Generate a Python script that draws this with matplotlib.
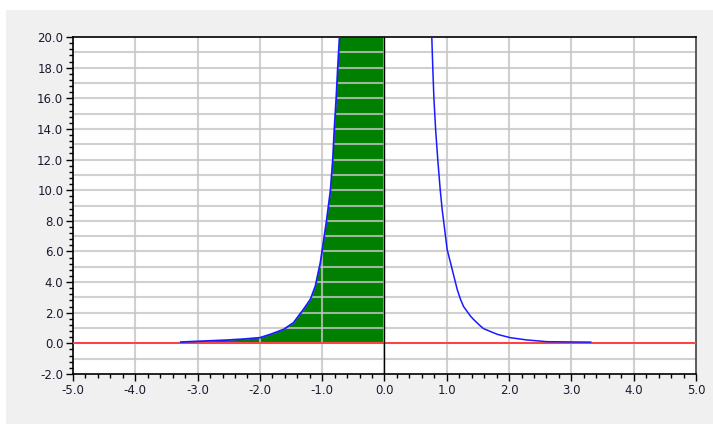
import matplotlib.pyplot as plt
from matplotlib.patches import Rectangle
import numpy as np

# curve (left branch, filled in green)
xLeft = [-3.27, -2.55, -2.26, -2.0, -1.83, -1.62, -1.46, -1.30, -1.19, -1.11,
         -1.03, -0.974, -0.93, -0.867, -0.83, -0.805, -0.775, -0.75, -0.722]
yLeft = [0.085, 0.21, 0.28, 0.37, 0.59, 0.91, 1.35, 2.22, 2.87, 3.73,
         5.26, 6.78, 8.0, 10.0, 12.0, 14.0, 16.0, 18.0, 20.0]

# right branch
xRight = [0.759, 0.775, 0.793, 0.82, 0.855, 0.895, 0.926, 1.006, 1.087,
          1.167, 1.22, 1.27, 1.38, 1.43, 1.53, 1.59, 1.81, 2.02, 2.29,
          2.61, 3.31]
yRight = [20.0, 18.0, 16.0, 14.0, 12.0, 10.0, 8.73, 6.12, 4.82,
          3.52, 2.87, 2.4, 1.78, 1.56, 1.17, 0.96, 0.59, 0.37, 0.22,
          0.11, 0.08]

xTicks = np.arange(-5, 5.01, 1.0)
yTicks = np.arange(-2, 20.01, 2.0)

fig = plt.figure(figsize=(7.13, 4.24), dpi=100)
fig.patch.set_facecolor("white")
# grey panel behind the chart
fig.patches.append(Rectangle((6 / 713, 0), 1, 1 - 10 / 424, transform=fig.transFigure,
                             facecolor="#f0f0f0", edgecolor="none", zorder=-10))

ax = fig.add_axes([73 / 713, 1 - 374 / 424, 623 / 713, 337 / 424])
ax.set_facecolor("white")
ax.set_xlim(-5, 5)
ax.set_ylim(-2, 20)

# green area under left branch, up to the top at x=0
top = ax.get_ylim()[1]
ax.fill_between(xLeft + [0.0], yLeft + [top], 0, color="#008000", lw=0, zorder=1)

# grid every 1.0 on both axes
for gx in np.arange(-4, 5, 1.0):
    ax.axvline(gx, color="#c5c5c5", lw=1.5, alpha=0.8, zorder=2)
for gy in np.arange(-1, 20, 1.0):
    ax.axhline(gy, color="#c5c5c5", lw=1.5, alpha=0.8, zorder=2)

ax.axhline(0, color="#ff4040", lw=1.4, zorder=3)
ax.axvline(0, color="black", lw=1.0, zorder=3)

ax.plot(xLeft, yLeft, color="#1a1aff", lw=1.3, zorder=4)
ax.plot(xRight, yRight, color="#1a1aff", lw=1.1, zorder=4)

ax.set_xticks(xTicks)
ax.set_xticklabels([f"{v:.1f}" for v in xTicks])
ax.set_xticks(np.arange(-5, 5.01, 0.2), minor=True)
ax.set_yticks(yTicks)
ax.set_yticklabels([f"{v:.1f}" for v in yTicks])
ax.set_yticks(np.arange(-2, 20.01, 0.4), minor=True)

ax.tick_params(which="major", length=5, width=1, direction="out", labelsize=8.5,
               colors="black", labelcolor="#1a1a30", pad=2)
ax.tick_params(which="minor", length=3, width=1, direction="out", colors="black")

for side in ["left", "bottom", "top"]:
    ax.spines[side].set_color("black")
    ax.spines[side].set_linewidth(1.2)
ax.spines["right"].set_color("#404040")
ax.spines["right"].set_linewidth(1.2)

fig.savefig("out.png", dpi=100, facecolor=fig.get_facecolor())
